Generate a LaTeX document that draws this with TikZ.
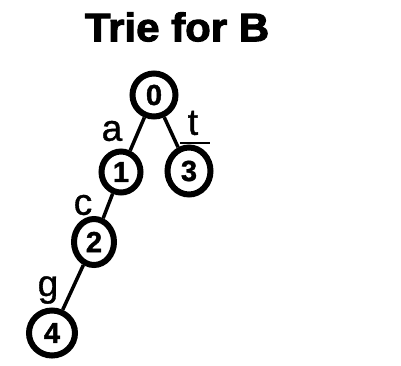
\documentclass[tikz,border=0pt]{standalone}
\usepackage{fontspec}
\usetikzlibrary{shapes.geometric}
\setmainfont{Liberation Sans}
\newfontfamily\heavysans[FakeBold=2.5]{Liberation Sans Bold}
\newfontfamily\digitsans[FakeBold=1.5]{Liberation Sans Bold}
\newfontfamily\labelsans[FakeBold=1]{Liberation Sans}
\begin{document}
\begin{tikzpicture}[x=1pt,y=-1pt,
  trienode/.style={draw,line width=6pt,ellipse,inner sep=0pt,minimum width=43pt,minimum height=43pt,
    font=\fontsize{29}{29}\selectfont\digitsans},
  edge/.style={line width=3.5pt},
  letter/.style={font=\fontsize{37}{37}\selectfont\labelsans,inner sep=0pt}]
\useasboundingbox (0,0) rectangle (401,365);
\node[font=\fontsize{40}{40}\selectfont\heavysans,inner sep=0pt,xscale=1.05] (title) at (177,27) {Trie for B};
% nodes of the trie
\node[trienode] (n0) at (154,95) {0};
\node[trienode,minimum width=39pt,minimum height=41pt] (n1) at (121,172) {1};
\node[trienode,minimum width=43pt,minimum height=47pt] (n3) at (189,171) {3};
\node[trienode,minimum width=40pt,minimum height=46pt] (n2) at (94,242) {2};
\node[trienode,minimum width=46pt,minimum height=45pt] (n4) at (52,333) {4};
% edges
\draw[edge] (n0) -- (n1);
\draw[edge] (n0) -- (n3);
\draw[edge] (n1) -- (n2);
\draw[edge] (n2) -- (n4);
\coordinate (tickA) at (180,143);
\coordinate (tickB) at (210,143);
\draw[line width=1.5pt] (tickA) -- (tickB);
% edge letters
\node[letter] (la) at (112,131) {a};
\node[letter] (lt) at (193,123) {t};
\node[letter] (lc) at (83,205) {c};
\node[letter] (lg) at (48,290) {g};
\end{tikzpicture}
\end{document}
